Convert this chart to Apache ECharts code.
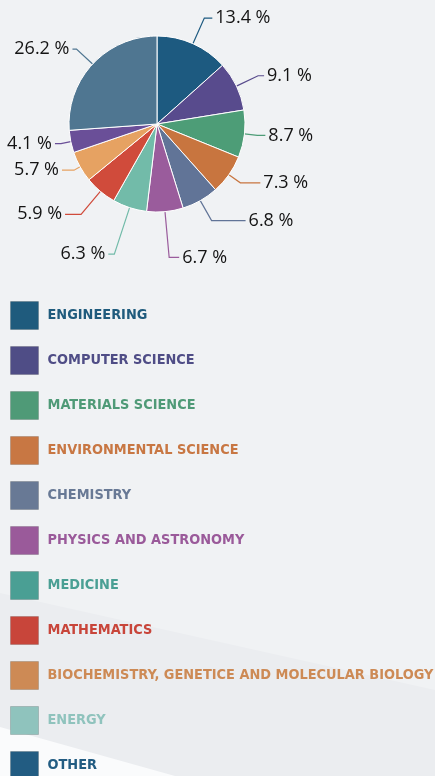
<!DOCTYPE html>
<html>
<head>
<meta charset="utf-8">
<script src="https://cdn.jsdelivr.net/npm/echarts@6/dist/echarts.min.js"></script>
<style>
  html, body { margin: 0; padding: 0; background: #eff1f4; }
  #pieChart { width: 435px; height: 776px; }
</style>
</head>
<body>
<div id="pieChart"></div>
<script>
// subject areas, clockwise from 12 o'clock
const categories = [
  'ENGINEERING',
  'COMPUTER SCIENCE',
  'MATERIALS SCIENCE',
  'ENVIRONMENTAL SCIENCE',
  'CHEMISTRY',
  'PHYSICS AND ASTRONOMY',
  'MEDICINE',
  'MATHEMATICS',
  'BIOCHEMISTRY, GENETICE AND MOLECULAR BIOLOGY',
  'ENERGY',
  'OTHER'
]
const shares = [13.4, 9.1, 8.7, 7.3, 6.8, 6.7, 6.3, 5.9, 5.7, 4.1, 26.2]

// colours as drawn in the pie and in the key (they differ a bit)
const sliceColors = ['#1d5a80', '#584b8d', '#4d9d77', '#c8753f', '#617497', '#9a5c9c', '#72bba9', '#d04b3b', '#e6a262', '#6a4f98', '#4f7691']
const keyColors = ['#1f5b7d', '#4f4d86', '#4f9a77', '#c87743', '#687995', '#9a5a9a', '#4a9f94', '#c8453a', '#cd8a55', '#8fc3bd', '#225c82']

// leader line style: first leg / second leg length per slice
const leg1 = [28, 24, 13, 14, 23, 46, 49, 30, 7, 10, 22]
const leg2 = [8, 6, 8, 20, 34, 10, 6, 16, 12, 6, 4]

const myPieChart = echarts.init(document.getElementById('pieChart'))

const chartOption = {
  backgroundColor: '#f0f2f4',
  animation: false,
  graphic: [
    {
      type: 'polygon',
      z: -10,
      shape: { points: [[0, 593], [435, 690], [435, 776], [0, 776]] },
      style: { fill: '#ebedf0' }
    },
    {
      type: 'polygon',
      z: -9,
      shape: { points: [[0, 727], [175, 776], [0, 776]] },
      style: { fill: '#fafbfc' }
    }
  ],
  legend: {
    orient: 'vertical',
    left: 10,
    top: 301,
    height: 480,
    padding: 0,
    icon: 'rect',
    itemWidth: 28,
    itemHeight: 28,
    itemGap: 16,
    selectedMode: false,
    textStyle: {
      fontFamily: 'DejaVu Sans Condensed',
      fontWeight: 'bold',
      fontSize: 14.4,
      padding: [0, 0, 0, 4]
    },
    data: categories.map((name, i) => ({
      name: name,
      itemStyle: { color: keyColors[i], borderColor: 'rgba(0,0,0,0.15)', borderWidth: 1 },
      textStyle: { color: keyColors[i] }
    }))
  },
  series: [
    {
      type: 'pie',
      center: [157, 124],
      radius: [0, 88],
      startAngle: 90,
      clockwise: true,
      avoidLabelOverlap: false,
      itemStyle: { borderColor: '#ffffff', borderWidth: 1 },
      label: {
        formatter: '{c} %',
        fontFamily: 'Open Sans',
        fontSize: 18,
        color: '#141414',
        overflow: 'none',
        distanceToLabelLine: 3
      },
      labelLine: {
        lineStyle: { width: 1.2 }
      },
      emphasis: { disabled: true },
      data: categories.map((name, i) => ({
        name: name,
        value: shares[i],
        itemStyle: { color: sliceColors[i] },
        labelLine: { length: leg1[i], length2: leg2[i], lineStyle: { color: sliceColors[i] } }
      }))
    }
  ]
}

myPieChart.setOption(chartOption, true)
</script>
</body>
</html>
